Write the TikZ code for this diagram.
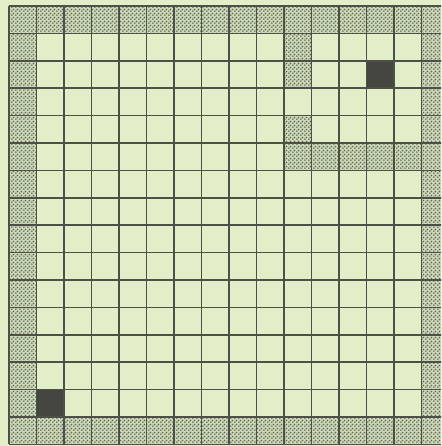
\documentclass[tikz,border=0pt]{standalone}
\usetikzlibrary{patterns}
\definecolor{bg}{RGB}{225,238,200}
\definecolor{ln}{RGB}{76,80,70}
\definecolor{dk}{RGB}{70,70,64}
\definecolor{hb}{RGB}{205,218,182}
\pgfdeclarepatternformonly{halftone}{\pgfqpoint{0pt}{0pt}}{\pgfqpoint{3.6pt}{3.6pt}}{\pgfqpoint{3.6pt}{3.6pt}}{%
  \pgfpathcircle{\pgfqpoint{0.9pt}{0.9pt}}{0.95pt}%
  \pgfpathcircle{\pgfqpoint{2.7pt}{2.7pt}}{0.95pt}%
  \pgfusepath{fill}%
}
\tikzset{
  gridline/.style={draw=ln, line width=1.6pt},
  hatchcell/.style={fill=hb, postaction={pattern=halftone, pattern color=ln!90}},
  darkcell/.style={fill=dk},
}
\begin{document}
\begin{tikzpicture}[x=1pt,y=-1pt]
\useasboundingbox (0,0) rectangle (441,446);
\clip (0,0) rectangle (441,446);
\fill[bg] (0,0) rectangle (441,446);
\def\cw{27.5}
\def\ch{27.4}
% border hatched cells
\foreach \c in {0,...,15} {
  \path[hatchcell] ({9+\c*\cw},{6}) rectangle ++(\cw,\ch);
  \path[hatchcell] ({9+\c*\cw},{6+15*\ch}) rectangle ++(\cw,\ch);
}
\foreach \r in {1,...,14} {
  \path[hatchcell] ({9},{6+\r*\ch}) rectangle ++(\cw,\ch);
  \path[hatchcell] ({9+15*\cw},{6+\r*\ch}) rectangle ++(\cw,\ch);
}
% interior hatched cells
\foreach \c/\r in {10/1,10/2,10/4,10/5,11/5,12/5,13/5,14/5} {
  \path[hatchcell] ({9+\c*\cw},{6+\r*\ch}) rectangle ++(\cw,\ch);
}
% dark cells
\foreach \c/\r in {13/2,1/14} {
  \path[darkcell] ({9+\c*\cw},{6+\r*\ch}) rectangle ++(\cw,\ch);
}
% grid lines
\foreach \i in {0,...,16} {
  \draw[gridline] ({9+\i*\cw},{6}) -- ({9+\i*\cw},{6+16*\ch});
  \draw[gridline] ({9},{6+\i*\ch}) -- ({9+16*\cw},{6+\i*\ch});
}
\end{tikzpicture}
\end{document}
